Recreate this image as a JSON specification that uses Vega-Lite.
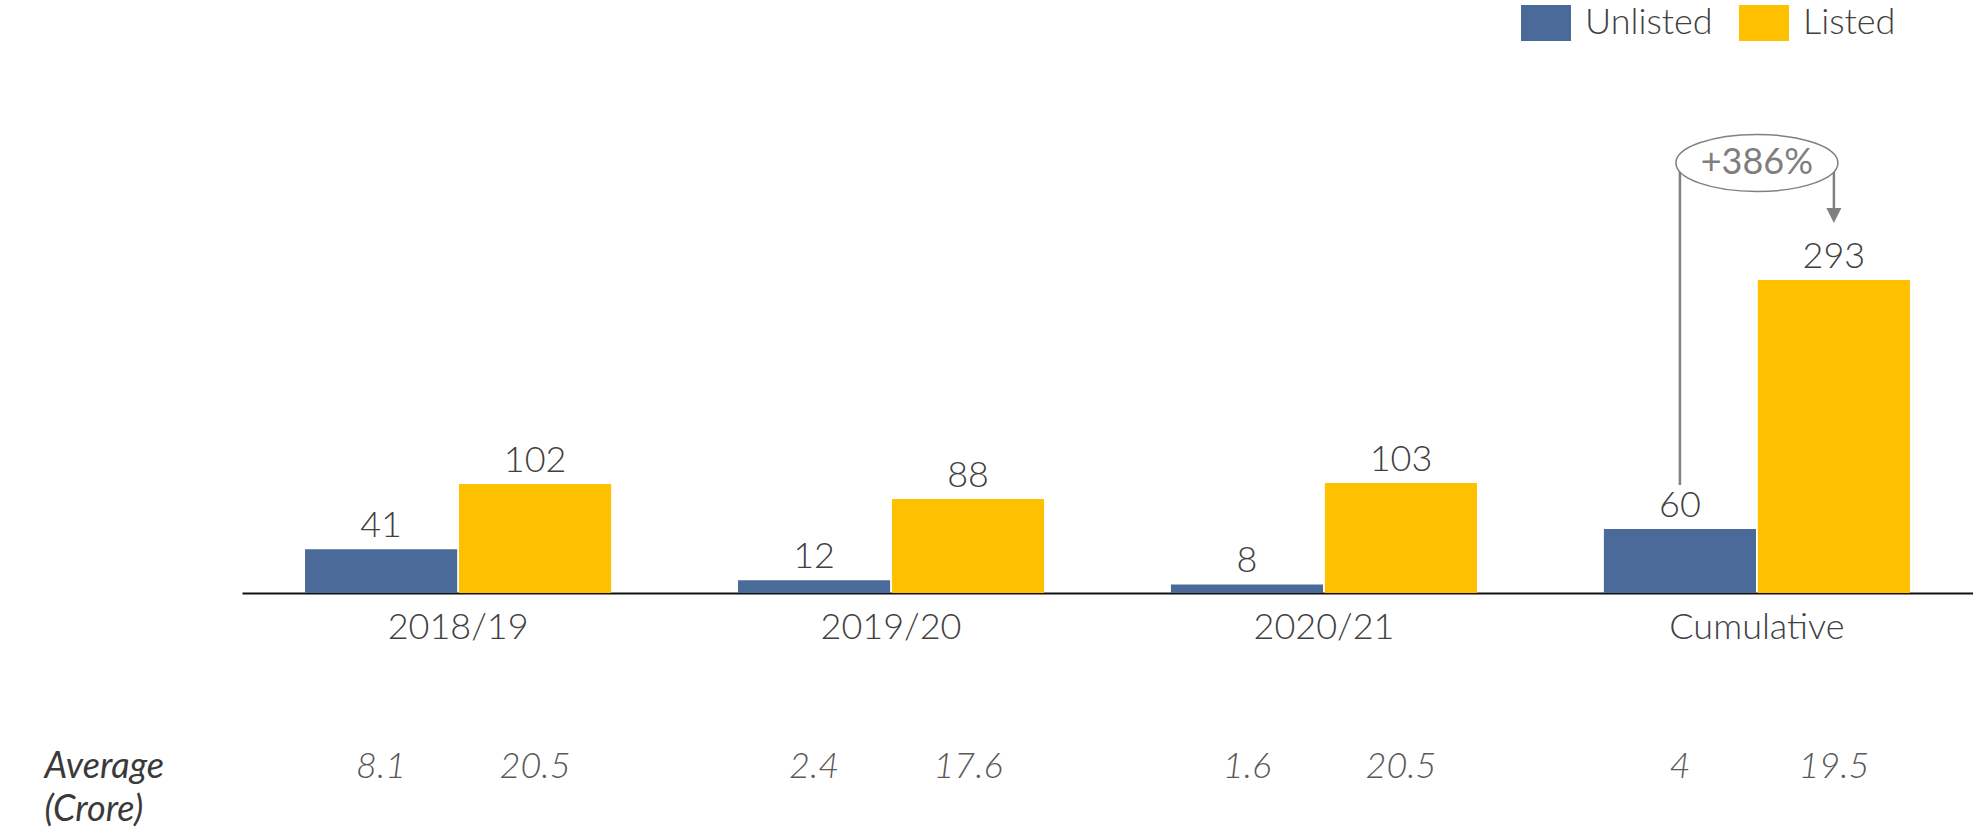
{
  "$schema": "https://vega.github.io/schema/vega-lite/v6.json",
  "autosize": {"type": "none"},
  "padding": {"left": 242, "top": 0, "right": 0, "bottom": 237},
  "width": 1731,
  "height": 593,
  "background": "white",
  "config": {
    "view": {"stroke": null},
    "font": "Lato",
    "text": {"font": "Lato"}
  },
  "data": {
    "values": [
      {"period": "2018/19", "type": "Unlisted", "value": 41, "avg": "8.1"},
      {"period": "2018/19", "type": "Listed", "value": 102, "avg": "20.5"},
      {"period": "2019/20", "type": "Unlisted", "value": 12, "avg": "2.4"},
      {"period": "2019/20", "type": "Listed", "value": 88, "avg": "17.6"},
      {"period": "2020/21", "type": "Unlisted", "value": 8, "avg": "1.6"},
      {"period": "2020/21", "type": "Listed", "value": 103, "avg": "20.5"},
      {"period": "Cumulative", "type": "Unlisted", "value": 60, "avg": "4"},
      {"period": "Cumulative", "type": "Listed", "value": 293, "avg": "19.5"}
    ]
  },
  "encoding": {
    "x": {
      "field": "period",
      "type": "nominal",
      "sort": ["2018/19", "2019/20", "2020/21", "Cumulative"],
      "scale": {"paddingInner": 0.293, "paddingOuter": 0.1456},
      "axis": {
        "title": ["Average", "(Crore)"],
        "titleX": -198,
        "titleY": 184,
        "titleAlign": "left",
        "titleAnchor": null,
        "titleBaseline": "alphabetic",
        "titleFont": "Lato",
        "titleFontSize": 36,
        "titleFontStyle": "italic",
        "titleFontWeight": 400,
        "titleColor": "#3A3A3A",
        "titleLineHeight": 43,
        "labelFont": "Lato",
        "labelFontSize": 36,
        "labelFontWeight": 300,
        "labelColor": "#404040",
        "labelBaseline": "alphabetic",
        "labelPadding": 45,
        "labelAngle": 0,
        "ticks": false,
        "tickSize": 0,
        "grid": false,
        "domainColor": "#111111",
        "domainWidth": 2
      }
    }
  },
  "layer": [
    {
      "mark": {"type": "bar"},
      "encoding": {
        "xOffset": {"field": "type", "type": "nominal", "sort": ["Unlisted", "Listed"], "scale": {"paddingInner": 0.012}},
        "y": {"field": "value", "type": "quantitative", "scale": {"domain": [0, 555.2], "nice": false}, "axis": null},
        "color": {
          "field": "type",
          "type": "nominal",
          "sort": ["Unlisted", "Listed"],
          "scale": {"domain": ["Unlisted", "Listed"], "range": ["#4A6A99", "#FFC000"]},
          "legend": {
            "orient": "none",
            "legendX": 1279,
            "legendY": -2,
            "direction": "horizontal",
            "title": null,
            "padding": 0,
            "symbolType": "M-1,-0.72H1V0.72H-1Z",
            "symbolSize": 2500,
            "symbolStrokeWidth": 0,
            "symbolOpacity": 1,
            "labelFont": "Lato",
            "labelFontSize": 36,
            "labelFontWeight": 300,
            "labelColor": "#404040",
            "labelOffset": 14,
            "columnPadding": 26,
            "labelLimit": 400
          }
        }
      }
    },
    {
      "mark": {"type": "text", "dy": -12, "baseline": "alphabetic", "fontSize": 36, "fontWeight": 300, "color": "#404040"},
      "encoding": {
        "xOffset": {"field": "type", "type": "nominal", "sort": ["Unlisted", "Listed"]},
        "y": {"field": "value", "type": "quantitative"},
        "text": {"field": "value", "type": "quantitative"}
      }
    },
    {
      "mark": {"type": "text", "dy": 185, "baseline": "alphabetic", "fontSize": 36, "fontWeight": 300, "fontStyle": "italic", "color": "#595959"},
      "encoding": {
        "xOffset": {"field": "type", "type": "nominal", "sort": ["Unlisted", "Listed"]},
        "y": {"datum": 0, "type": "quantitative"},
        "text": {"field": "avg", "type": "nominal"}
      }
    },
    {
      "data": {"values": [{"period": "Cumulative", "type": "Unlisted", "top": 402.6, "bottom": 101}]},
      "mark": {"type": "rule", "color": "#808080", "strokeWidth": 2.5},
      "encoding": {
        "xOffset": {"field": "type", "type": "nominal", "sort": ["Unlisted", "Listed"]},
        "y": {"field": "top", "type": "quantitative"},
        "y2": {"field": "bottom"}
      }
    },
    {
      "data": {"values": [{"period": "Cumulative", "type": "Listed", "top": 402.6, "bottom": 353.4}]},
      "mark": {"type": "rule", "color": "#808080", "strokeWidth": 2.5},
      "encoding": {
        "xOffset": {"field": "type", "type": "nominal", "sort": ["Unlisted", "Listed"]},
        "y": {"field": "top", "type": "quantitative"},
        "y2": {"field": "bottom"}
      }
    },
    {
      "data": {"values": [{"period": "Cumulative", "type": "Listed", "tip": 353.4}]},
      "mark": {"type": "point", "shape": "M-1,-1H1L0,1Z", "size": 225, "filled": true, "color": "#808080", "opacity": 1},
      "encoding": {
        "xOffset": {"field": "type", "type": "nominal", "sort": ["Unlisted", "Listed"]},
        "y": {"field": "tip", "type": "quantitative"}
      }
    },
    {
      "data": {"values": [{"period": "Cumulative", "change": "+386%", "level": 402.6}]},
      "mark": {"type": "point", "shape": "M-1,0A1,0.352,0,1,1,1,0A1,0.352,0,1,1,-1,0Z", "size": 26244, "filled": false, "fill": "white", "fillOpacity": 1, "stroke": "#808080", "strokeWidth": 1.5, "opacity": 1},
      "encoding": {
        "y": {"field": "level", "type": "quantitative"}
      }
    },
    {
      "data": {"values": [{"period": "Cumulative", "change": "+386%", "level": 402.6}]},
      "mark": {"type": "text", "baseline": "middle", "fontSize": 36, "fontWeight": 400, "color": "#7F7F7F"},
      "encoding": {
        "y": {"field": "level", "type": "quantitative"},
        "text": {"field": "change", "type": "nominal"}
      }
    }
  ]
}
